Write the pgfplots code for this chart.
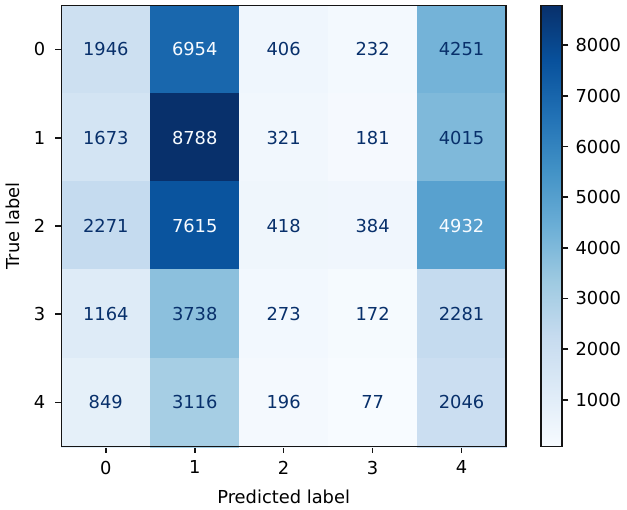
\documentclass[border=0pt]{standalone}
\usepackage{pgfplots}
\pgfplotsset{compat=1.18}
\usepackage{fontspec}
\setmainfont{DejaVu Sans}
\definecolor{darktxt}{RGB}{8,48,107}
\definecolor{lighttxt}{RGB}{247,251,255}
\definecolor{axgray}{RGB}{20,20,20}
\pgfplotstableread{
x y c
0 0 1946
1 0 6954
2 0 406
3 0 232
4 0 4251
0 1 1673
1 1 8788
2 1 321
3 1 181
4 1 4015
0 2 2271
1 2 7615
2 2 418
3 2 384
4 2 4932
0 3 1164
1 3 3738
2 3 273
3 3 172
4 3 2281
0 4 849
1 4 3116
2 4 196
3 4 77
4 4 2046
}\cmdata
\pgfplotstableread{
x y c
0 0 1946
2 0 406
3 0 232
4 0 4251
0 1 1673
2 1 321
3 1 181
4 1 4015
0 2 2271
2 2 418
3 2 384
0 3 1164
1 3 3738
2 3 273
3 3 172
4 3 2281
0 4 849
1 4 3116
2 4 196
3 4 77
4 4 2046
}\darkcells
\pgfplotstableread{
x y c
1 0 6954
1 1 8788
1 2 7615
4 2 4932
}\lightcells
\begin{document}
\begin{tikzpicture}
\begin{axis}[
  name=mainax,
  scale only axis,
  width=249pt, height=247pt,
  xmin=-0.5, xmax=4.5, ymin=-0.5, ymax=4.5,
  y dir=reverse,
  xtick={0,1,2,3,4}, ytick={0,1,2,3,4},
  xtick pos=bottom, ytick pos=left,
  tick align=outside,
  major tick length=3.5pt,
  tick style={axgray, line width=0.9pt},
  axis line style={axgray, line width=0.9pt},
  font=\fontsize{10}{12}\selectfont,
  /pgf/number format/assume math mode=true,
  /pgf/number format/1000 sep={},
  yticklabel style={xshift=-2pt},
  xticklabel style={yshift=-1pt},
  xlabel={Predicted label}, ylabel={True label},
  xlabel style={yshift=-2pt},
  ylabel style={yshift=1pt},
  colormap={blues}{rgb255=(247,251,255) rgb255=(222,235,247) rgb255=(198,219,239) rgb255=(158,202,225) rgb255=(107,174,214) rgb255=(66,146,198) rgb255=(33,113,181) rgb255=(8,81,156) rgb255=(8,48,107)},
  point meta min=77, point meta max=8788,
  colorbar,
  colorbar style={
    name=cbar,
    width=12pt,
    at={(1.078,1)}, anchor=north west,
    ytick={1000,2000,3000,4000,5000,6000,7000,8000},
    ytick pos=right,
    tick align=outside,
    major tick length=3.5pt,
    tick style={axgray, line width=0.9pt},
    axis line style={axgray, line width=0.9pt},
    font=\fontsize{10}{12}\selectfont,
    /pgf/number format/assume math mode=true,
    /pgf/number format/1000 sep={},
    yticklabel style={font=\fontsize{10}{12}\selectfont, xshift=0.5pt},
  },
]
\addplot[scatter, only marks, mark=square*, mark size=25pt, line width=0.2pt,
  scatter/use mapped color={draw=mapped color, fill=mapped color},
  point meta=explicit] table[meta=c] {\cmdata};
\addplot[only marks, mark=none, nodes near coords, point meta=explicit symbolic,
  nodes near coords style={anchor=center, text=darktxt, font=\fontsize{10}{12}\selectfont}]
  table[meta=c] {\darkcells};
\addplot[only marks, mark=none, nodes near coords, point meta=explicit symbolic,
  nodes near coords style={anchor=center, text=lighttxt, font=\fontsize{10}{12}\selectfont}]
  table[meta=c] {\lightcells};
\end{axis}
\draw[axgray, line width=0.9pt] (mainax.south west) rectangle (mainax.north east);
\path (mainax.north west) ++(0,3pt);
\end{tikzpicture}
\end{document}
